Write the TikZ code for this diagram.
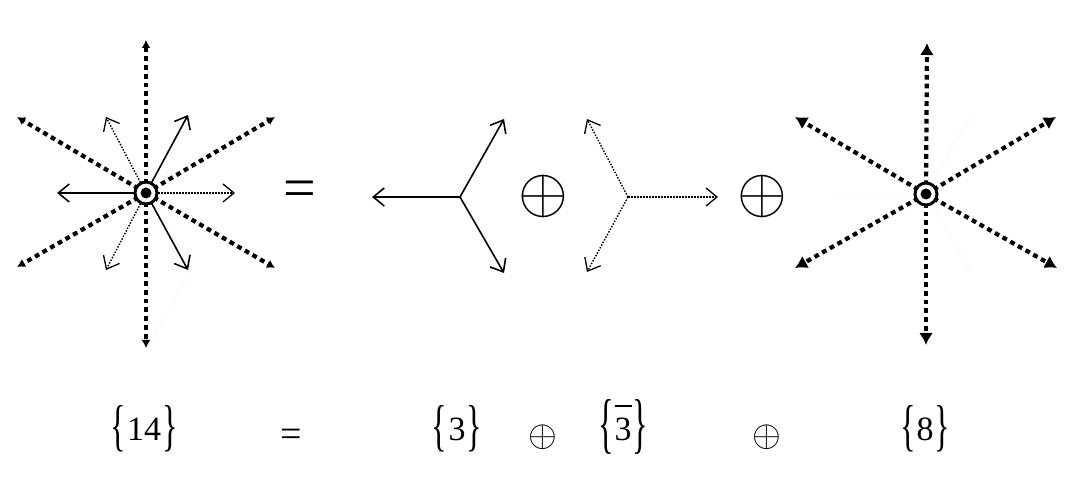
\documentclass[tikz,border=0pt]{standalone}
\usepackage{fix-cm}
\usepackage{fontspec}
\setmainfont{Liberation Serif}
\usepackage{graphicx}
\usetikzlibrary{arrows.meta}

% #1 vertical scale of braces, #2 shift of braces, #3 content
\newcommand\repbr[3]{\begingroup\fontsize{34}{40}\selectfont
\raisebox{#2}{\scalebox{0.95}[#1]{\{}}\kern1pt
#3\kern1pt
\raisebox{#2}{\scalebox{0.95}[#1]{\}}}\endgroup}
\newcommand\barthree{\begingroup\setbox0\hbox{3}\vbox{\hrule width\wd0 height 1.8pt\kern 10.5pt\box0}\endgroup}

\tikzset{
  thickdash/.style={line width=4.2pt, dash pattern=on 4.8pt off 4pt},
  smallhead/.style={-{Latex[length=8pt,width=9pt]}},
  bighead/.style={-{Latex[length=12pt,width=14pt]}},
  solidarr/.style={line width=1.6pt, -{Straight Barb[length=11pt,width=18pt,line width=1.6pt]}},
  dotarr/.style={line width=1.4pt, dash pattern=on 1.5pt off 1.5pt, -{Straight Barb[length=11pt,width=18pt,line width=1.3pt]}},
  ghost/.style={line width=1pt, black!6, dash pattern=on 1.4pt off 1.6pt},
  ring/.style={circle, draw, line width=3pt, fill=white, minimum size=22pt, inner sep=0pt},
  dotc/.style={circle, fill, minimum size=11pt, inner sep=0pt},
  lbl/.style={anchor=base, inner sep=0pt}
}

\begin{document}
\begin{tikzpicture}[x=1pt,y=-1pt]
\useasboundingbox (0,0) rectangle (1072,481);

% ---------- left star {14} ----------
\coordinate (L) at (146,193);
\coordinate (Lu) at (146,40);
\coordinate (Ld) at (146,348);
\coordinate (Lul) at (17,117);
\coordinate (Lur) at (275,117);
\coordinate (Lll) at (17,267);
\coordinate (Llr) at (275,268);
\coordinate (Lt1) at (57,193);
\coordinate (Lt2) at (188,115);
\coordinate (Lt3) at (188,270);
\coordinate (La1) at (235,193);
\coordinate (La2) at (106,117);
\coordinate (La3) at (106,270);
\coordinate (Lg1) at (188,276);
\coordinate (Lg2) at (148,346);

\draw[ghost] (Lg1) -- (Lg2);
\foreach \e in {Lu,Ld,Lul,Lur,Lll,Llr}
  \draw[thickdash,smallhead] (L) -- (\e);
\foreach \e in {Lt1,Lt2,Lt3}
  \draw[solidarr] (L) -- (\e);
\foreach \e in {La1,La2,La3}
  \draw[dotarr] (L) -- (\e);
\node[ring] (Lring) at (L) {};
\node[dotc] (Ldot) at (L) {};

% ---------- equals ----------
\node[inner sep=0pt] (eq) at (300,194) {\fontsize{58}{60}\selectfont =};

% ---------- triplet ----------
\coordinate (T) at (460,197);
\coordinate (T1) at (372,197);
\coordinate (T2) at (504,119);
\coordinate (T3) at (504,273);
\foreach \e in {T1,T2,T3}
  \draw[solidarr] (T) -- (\e);

\node[inner sep=0pt] (op1) at (543,197) {\fontsize{64}{64}\selectfont$\oplus$};

% ---------- anti-triplet ----------
\coordinate (A) at (628,197);
\coordinate (A1) at (718,197);
\coordinate (A2) at (587,119);
\coordinate (A3) at (587,272);
\foreach \e in {A1,A2,A3}
  \draw[dotarr] (A) -- (\e);

\node[inner sep=0pt] (op2) at (762,197) {\fontsize{64}{64}\selectfont$\oplus$};

% ---------- octet ----------
\coordinate (O) at (926,194);
\coordinate (Ou) at (927,43);
\coordinate (Od) at (926,345);
\coordinate (Oul) at (795,117);
\coordinate (Our) at (1056,117);
\coordinate (Oll) at (795,268);
\coordinate (Olr) at (1057,268);
\coordinate (Og1) at (838,194);
\coordinate (Og2) at (970,117);
\coordinate (Og3) at (970,271);
\foreach \e in {Og1,Og2,Og3}
  \draw[ghost] (O) -- (\e);
\foreach \e in {Ou,Od,Oul,Our,Oll,Olr}
  \draw[thickdash,bighead] (O) -- (\e);
\node[ring] (Oring) at (O) {};
\node[dotc] (Odot) at (O) {};

% ---------- bottom labels ----------
\node[lbl] (b14) at (144,440) {\repbr{1.65}{-4pt}{14}};
\node[lbl] (beq) at (291,446) {\fontsize{38}{40}\selectfont =};
\node[lbl] (b3) at (457,440) {\repbr{1.65}{-4pt}{3}};
\node[inner sep=0pt] (bop1) at (543,437) {\fontsize{37}{37}\selectfont$\oplus$};
\node[lbl] (b3b) at (623,440) {\repbr{1.95}{-5.5pt}{\barthree}};
\node[inner sep=0pt] (bop2) at (767,437) {\fontsize{37}{37}\selectfont$\oplus$};
\node[lbl] (b8) at (925,440) {\repbr{1.65}{-4pt}{8}};
\end{tikzpicture}
\end{document}
